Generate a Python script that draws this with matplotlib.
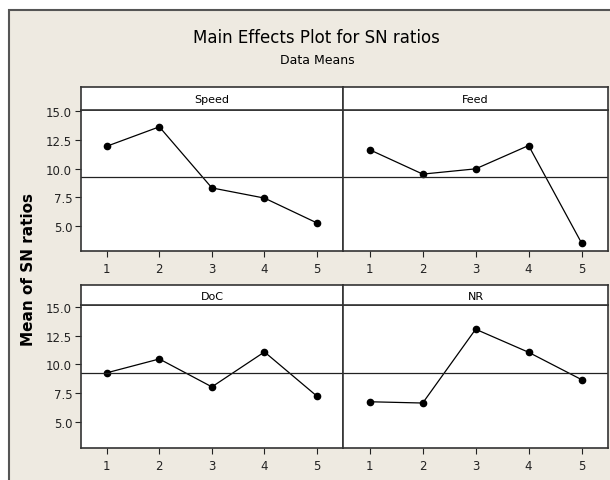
import numpy as np
import matplotlib.pyplot as plt
from matplotlib.patches import Rectangle

# levels and mean SN ratios
levels = [1, 2, 3, 4, 5]
factors = ["Speed", "Feed", "DoC", "NR"]
speed = [11.95, 13.65, 8.30, 7.41, 5.23]
feed = [11.64, 9.51, 9.97, 12.01, 3.48]
doc = [9.27, 10.47, 8.05, 11.08, 7.24]
nr = [6.76, 6.65, 13.05, 11.05, 8.68]
yticks = [5.0, 7.5, 10.0, 12.5, 15.0]

series = [speed, feed, doc, nr]
grand_mean = np.mean(series)

W, H = 610, 481
bg = "#eeeae1"
edge = "#333333"

fig = plt.figure(figsize=(W / 100, H / 100), dpi=100)
fig.patch.set_facecolor("white")
fig.patches.append(Rectangle((9 / W, -0.1), 1.0, 1.1 - 11 / H,
                             transform=fig.transFigure, facecolor=bg,
                             edgecolor="#555555", lw=1.5, zorder=-10))


def box(l, t, r, b):
    return [l / W, 1 - b / H, (r - l) / W, (b - t) / H]


cols = [(80.5, 343.3), (343.3, 608)]
rows = [(88, 110.7, 252.3), (286, 306, 449)]

for i, (name, vals) in enumerate(zip(factors, series)):
    r, c = divmod(i, 2)
    l, rr = cols[c]
    st, pt, pb = rows[r]

    ax = fig.add_axes(box(l, pt, rr, pb))
    ax.set_facecolor("white")
    ax.plot(levels, vals, color="black", lw=0.9, marker="o", ms=4.5)
    ax.axhline(grand_mean, color="#222222", lw=0.9)
    ax.set_xlim(0.5, 5.5)
    ax.set_ylim(2.75, 15.15)
    ax.set_xticks(levels)
    ax.set_yticks(yticks)
    if c == 0:
        ax.set_yticklabels([f"{v:.1f}" for v in yticks])
        ax.tick_params(axis="y", length=4, width=0.8, pad=2, labelsize=8.5,
                       colors="#222222")
    else:
        ax.tick_params(axis="y", left=False, labelleft=False)
    ax.tick_params(axis="x", length=4, width=0.8, pad=4, labelsize=8.5,
                   colors="#222222")
    for s in ax.spines.values():
        s.set_color(edge)
        s.set_linewidth(1.2)

    strip = fig.add_axes(box(l, st, rr, pt))
    strip.set_facecolor("white")
    strip.set_xticks([])
    strip.set_yticks([])
    for s in strip.spines.values():
        s.set_color(edge)
        s.set_linewidth(1.2)
    strip.text(0.5, 0.45, name, ha="center", va="center", fontsize=8,
               transform=strip.transAxes)

fig.text(0.518, 1 - 38 / H, "Main Effects Plot for SN ratios", ha="center",
         va="center", fontsize=12)
fig.text(0.52, 1 - 60 / H, "Data Means", ha="center", va="center",
         fontsize=9)
fig.text(29 / W, 1 - 270 / H, "Mean of SN ratios", rotation=90, ha="center",
         va="center", fontsize=11, fontweight="bold")

fig.savefig("out.png", dpi=100)
